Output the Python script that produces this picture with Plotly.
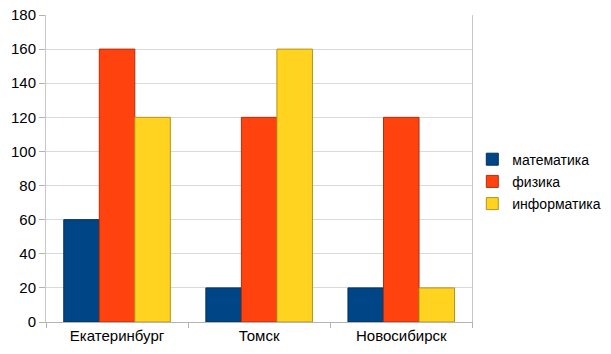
import plotly.graph_objects as go

cities = ["Екатеринбург", "Томск", "Новосибирск"]
math_vals = [60, 20, 20]
phys_vals = [160, 120, 120]
inf_vals = [120, 160, 20]

series = [
    ("математика", math_vals, "#004586", "#00305e"),
    ("физика", phys_vals, "#ff420e", "#b22e0a"),
    ("информатика", inf_vals, "#ffd320", "#b2941a"),
]

fig = go.Figure()
for name, vals, color, edge in series:
    fig.add_trace(go.Bar(
        x=cities, y=vals, name=name, legendgroup=name,
        marker=dict(color=color, line=dict(color=edge, width=1)),
    ))

fig.update_layout(
    width=611, height=354,
    margin=dict(l=46, r=136, t=15, b=32),
    paper_bgcolor="white", plot_bgcolor="white",
    barmode="group", bargap=0.25, bargroupgap=0,
    font=dict(family="Liberation Sans, Arial, sans-serif", size=15, color="#000000"),
    legend=dict(xref="container", yref="container", x=0.773, y=0.487,
                xanchor="left", yanchor="middle", bgcolor="rgba(0,0,0,0)",
                font=dict(size=14), tracegroupgap=1, itemwidth=30),
    showlegend=True,
)
fig.update_xaxes(
    showline=True, linecolor="#b3b3b3", linewidth=1,
    ticks="outside", tickson="boundaries", ticklen=5, tickcolor="#b3b3b3",
    showgrid=False, automargin=False,
)
fig.update_yaxes(
    range=[0, 180], dtick=20,
    showline=True, linecolor="#c8c8c8", linewidth=1, mirror=True,
    ticks="outside", ticklen=6, tickcolor="#b3b3b3",
    showgrid=True, gridcolor="#d9d9d9", zeroline=False, automargin=False,
)

fig.write_html("out.html", config={"displayModeBar": False},
               post_script="document.body.style.margin='0';")
